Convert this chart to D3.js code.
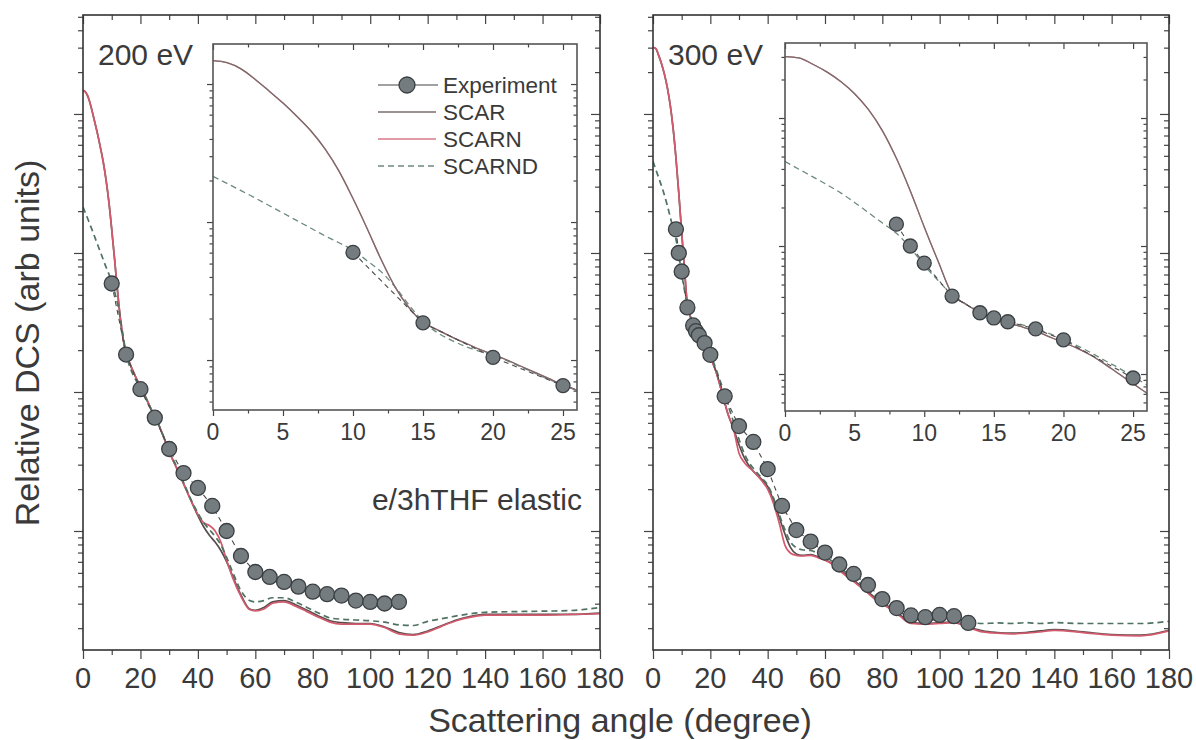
<!DOCTYPE html>
<html><head><meta charset="utf-8">
<script src="https://cdn.jsdelivr.net/npm/d3@7"></script>
<style>
html,body{margin:0;padding:0;background:#fff;}
svg{display:block;}
text{font-family:"Liberation Sans",Arial,Helvetica,sans-serif;fill:#3a3a3a;}
</style></head><body>
<svg id="chart" width="1196" height="740"></svg>
<script>
// ---------------- DATA ----------------
const angles = [0,1,2,3,4,5,6,7,8,9,10,11,12,13,14,15,16,17,18,19,20,21,22,23,24,25,26,
  28,30,32,35,38,40,42,44,46,48,50,52,55,58,60,63,66,70,74,78,82,86,90,95,100,105,110,115,120,125,130,135,140,150,160,170,180];

const e200SCAR = [1479,1429,1288,1084,891,728,582,457,339,234,148,90.2,53.7,33.9,24.0,18.8,16.6,14.8,13.3,12.0,10.96,10.0,9.02,8.13,7.33,6.61,6.03,
  4.79,3.72,3.02,2.19,1.585,1.288,1.072,0.933,0.832,0.724,0.603,0.479,0.347,0.275,0.269,0.282,0.309,0.316,0.295,0.269,0.245,0.226,0.219,0.216,0.216,0.204,0.186,0.180,0.191,0.209,0.229,0.243,0.251,0.251,0.251,0.251,0.257];
const e200SCARN = [1479,1429,1288,1084,891,728,582,457,339,234,148,90.2,53.7,33.9,24.0,18.8,16.6,14.8,13.3,12.0,10.96,10.0,9.02,8.13,7.33,6.61,6.03,
  4.79,3.72,3.02,2.19,1.585,1.318,1.148,1.096,1.000,0.832,0.617,0.468,0.339,0.272,0.266,0.275,0.302,0.309,0.288,0.263,0.240,0.221,0.214,0.214,0.214,0.202,0.182,0.178,0.188,0.207,0.226,0.240,0.248,0.248,0.248,0.251,0.254];
const e200SCARND = [214,190.5,169.0,149.6,131.8,116.1,102.3,90.2,79.4,70.8,62.4,52.5,43.7,33.9,25.1,19.05,15.85,13.96,12.59,11.61,10.84,9.89,8.91,8.04,7.24,6.61,6.03,
  4.79,3.76,3.09,2.24,1.622,1.349,1.148,1.023,0.912,0.794,0.646,0.513,0.372,0.316,0.309,0.316,0.331,0.331,0.309,0.282,0.257,0.237,0.232,0.229,0.226,0.221,0.211,0.209,0.224,0.234,0.245,0.254,0.260,0.263,0.265,0.268,0.282];

const e300SCAR = [3020,2951,2630,2291,1928,1549,1161,794,484,269,141,75.9,42.2,35.1,30.2,27.2,25.1,23.4,21.6,19.5,17.6,15.85,13.96,11.89,10.0,8.41,7.08,
  5.50,4.17,3.31,2.69,2.34,2.09,1.66,1.259,0.955,0.759,0.684,0.668,0.676,0.646,0.624,0.575,0.513,0.442,0.380,0.324,0.288,0.251,0.219,0.216,0.219,0.221,0.204,0.191,0.186,0.184,0.186,0.191,0.195,0.188,0.180,0.178,0.193];
const e300SCARN = [3020,2951,2630,2291,1928,1549,1161,794,484,269,141,75.9,42.2,35.1,30.2,27.2,25.1,23.4,21.6,19.5,17.6,15.85,13.96,11.89,10.0,8.41,7.08,
  5.50,3.63,3.09,2.69,2.29,2.00,1.585,1.148,0.794,0.692,0.668,0.661,0.668,0.638,0.617,0.569,0.501,0.432,0.372,0.316,0.282,0.245,0.216,0.214,0.216,0.219,0.202,0.188,0.184,0.182,0.184,0.188,0.193,0.186,0.178,0.176,0.191];
const e300SCARND = [457,398,347,302,260,219,182,151,126,96.6,70.8,53.7,41.7,35.1,30.9,28.2,26.0,24.3,22.6,20.7,18.6,16.6,14.6,12.7,11.1,9.55,8.22,
  6.17,4.57,3.55,2.82,2.40,2.14,1.738,1.318,1.023,0.832,0.759,0.733,0.724,0.684,0.653,0.596,0.531,0.457,0.394,0.339,0.299,0.263,0.237,0.229,0.229,0.229,0.221,0.216,0.218,0.216,0.219,0.216,0.219,0.216,0.216,0.216,0.224];

const expAngles200 = [10,15,20,25,30,35,40,45,50,55,60,65,70,75,80,85,90,95,100,105,110];
const exp200 = [60.3,18.6,10.47,6.53,3.89,2.61,2.04,1.514,1.000,0.661,0.507,0.467,0.430,0.398,0.366,0.351,0.343,0.316,0.309,0.301,0.309];
const expAngles300 = [8,9,10,12,14,15,16,18,20,25,30,35,40,45,50,55,60,65,70,75,80,85,90,95,100,105,110];
const exp300 = [148,100,73.6,40.6,30.1,27.4,25.6,22.5,18.5,9.31,5.69,4.37,2.79,1.514,1.016,0.839,0.700,0.574,0.491,0.409,0.324,0.279,0.247,0.240,0.249,0.244,0.218];

const mainTicksX = [0,20,40,60,80,100,120,140,160,180];
const mainMinorX = [10,30,50,70,90,110,130,150,170];
const insetTicksX = [0,5,10,15,20,25];
const insetMinorX = [2.5,7.5,12.5,17.5,22.5];
const panelLabels = ["200 eV","300 eV"];
const legendLabels = ["Experiment","SCAR","SCARN","SCARND"];
const noteText = "e/3hTHF elastic";
const xTitle = "Scattering angle (degree)";
const yTitle = "Relative DCS (arb units)";

// ---------------- LAYOUT / STYLE ----------------
const svg = d3.select("#chart");
svg.append("rect").attr("width",1196).attr("height",740).attr("fill","#fff");
const styles = {
  SCAR:  {stroke:"#574d4d", inset:"#7a6c6c", dash:null},
  SCARN: {stroke:"#d25a6c", inset:"#d77a88", dash:null},
  SCARND:{stroke:"#4f7262", inset:"#6d8a7e", dash:"6,4"}
};
const mainYDomain = [0.1393, 5152];
const panels = [
  {label: panelLabels[0], series:{SCAR:e200SCAR, SCARN:e200SCARN, SCARND:e200SCARND}, ex:expAngles200, ey:exp200,
   main:{x0:83,x1:600,y0:15,y1:650}, inset:{x0:213,x1:577,y0:44,y1:410,yDom:[4.345,1950]}, legend:true, note:true},
  {label: panelLabels[1], series:{SCAR:e300SCAR, SCARN:e300SCARN, SCARND:e300SCARND}, ex:expAngles300, ey:exp300,
   main:{x0:653,x1:1169,y0:15,y1:650}, inset:{x0:785,x1:1147,y0:43,y1:411,yDom:[5.14,3855]}, legend:false, note:false}
];

let clipId = 0;
function addClip(r){
  const id = "clip" + (clipId++);
  svg.append("clipPath").attr("id", id).append("rect")
    .attr("x", r.x0).attr("y", r.y0).attr("width", r.x1 - r.x0).attr("height", r.y1 - r.y0);
  return id;
}

function drawFrame(g, xs, ys, r, xMaj, xMin, tl, frameColor){
  const yt = ys.ticks();
  const isMajor = v => Math.abs(Math.log10(v) - Math.round(Math.log10(v))) < 1e-9;
  const yMaj = yt.filter(isMajor), yMin = yt.filter(v => !isMajor(v));
  const axes = [
    [d3.axisBottom(xs).tickValues(xMaj).tickSize(tl.maj), `translate(0,${r.y1})`],
    [d3.axisBottom(xs).tickValues(xMin).tickSize(tl.min), `translate(0,${r.y1})`],
    [d3.axisTop(xs).tickValues(xMaj).tickSize(-tl.maj), `translate(0,${r.y0})`],
    [d3.axisTop(xs).tickValues(xMin).tickSize(-tl.min), `translate(0,${r.y0})`],
    [d3.axisLeft(ys).tickValues(yMaj).tickSize(tl.maj), `translate(${r.x0},0)`],
    [d3.axisLeft(ys).tickValues(yMin).tickSize(tl.min), `translate(${r.x0},0)`],
    [d3.axisRight(ys).tickValues(yMaj).tickSize(-tl.maj), `translate(${r.x1},0)`],
    [d3.axisRight(ys).tickValues(yMin).tickSize(-tl.min), `translate(${r.x1},0)`]
  ];
  axes.forEach(([ax, tr]) => {
    const a = g.append("g").attr("transform", tr).call(ax.tickFormat(""));
    a.select(".domain").remove();
    a.selectAll("text").remove();
    a.selectAll("line").attr("stroke", "#444").attr("stroke-width", 1.2);
  });
  g.append("rect").attr("x", r.x0).attr("y", r.y0)
    .attr("width", r.x1 - r.x0).attr("height", r.y1 - r.y0)
    .attr("fill", "none").attr("stroke", frameColor).attr("stroke-width", 1.6);
}

function drawCurves(g, xs, ys, series, order, width, clip, maxAngle, isInset){
  order.forEach(name => {
    const vals = series[name];
    const pts = angles.map((a, i) => [a, vals[i]]).filter(d => d[0] <= maxAngle);
    g.append("path").datum(pts)
      .attr("clip-path", `url(#${clip})`)
      .attr("fill", "none")
      .attr("stroke", isInset ? styles[name].inset : styles[name].stroke)
      .attr("stroke-width", width)
      .attr("stroke-dasharray", styles[name].dash)
      .attr("d", d3.line().x(d => xs(d[0])).y(d => ys(d[1])).curve(d3.curveMonotoneX));
  });
}

function drawExp(g, xs, ys, ex, ey, rad, clip, maxAngle){
  const pts = ex.map((a, i) => [a, ey[i]]).filter(d => d[0] <= maxAngle);
  g.append("path").datum(pts)
    .attr("clip-path", `url(#${clip})`)
    .attr("fill", "none").attr("stroke", "#4a4a4a").attr("stroke-width", 1.1)
    .attr("stroke-dasharray", "5,4")
    .attr("d", d3.line().x(d => xs(d[0])).y(d => ys(d[1])));
  g.selectAll(null).data(pts).enter().append("circle")
    .attr("cx", d => xs(d[0])).attr("cy", d => ys(d[1])).attr("r", rad)
    .attr("fill", "#747c80").attr("stroke", "#3a3f42").attr("stroke-width", 1.3);
}

panels.forEach(p => {
  const m = p.main, ins = p.inset;
  const g = svg.append("g");
  const xs = d3.scaleLinear().domain([0,180]).range([m.x0, m.x1]);
  const ys = d3.scaleLog().domain(mainYDomain).range([m.y1, m.y0]);
  const clipM = addClip(m);
  drawCurves(g, xs, ys, p.series, ["SCAR","SCARN","SCARND"], 1.7, clipM, 180, false);
  drawExp(g, xs, ys, p.ex, p.ey, 7.5, clipM, 180);
  drawFrame(g, xs, ys, m, mainTicksX, mainMinorX, {maj:9, min:5}, "#333");

  // main tick labels
  g.selectAll(null).data(mainTicksX).enter().append("text")
    .attr("x", d => xs(d)).attr("y", m.y1 + 38)
    .attr("text-anchor", "middle").attr("font-size", 29)
    .text(d => d);

  // panel label
  g.append("text").attr("x", m.x0 + 15).attr("y", 65)
    .attr("font-size", 30).text(p.label);

  if (p.note) {
    g.append("text").attr("x", m.x1 - 18).attr("y", 510)
      .attr("text-anchor", "end").attr("font-size", 30).text(noteText);
  }

  // inset
  const gi = svg.append("g");
  gi.append("rect").attr("x", ins.x0).attr("y", ins.y0)
    .attr("width", ins.x1 - ins.x0).attr("height", ins.y1 - ins.y0).attr("fill", "#fff");
  const xi = d3.scaleLinear().domain([0,26]).range([ins.x0, ins.x1]);
  const yi = d3.scaleLog().domain(ins.yDom).range([ins.y1, ins.y0]);
  const clipI = addClip(ins);
  drawCurves(gi, xi, yi, p.series, ["SCARN","SCARND","SCAR"], 1.3, clipI, 28, true);
  drawExp(gi, xi, yi, p.ex, p.ey, 7, clipI, 26);
  drawFrame(gi, xi, yi, ins, insetTicksX, insetMinorX, {maj:6, min:3.5}, "#555");
  gi.selectAll(null).data(insetTicksX).enter().append("text")
    .attr("x", d => xi(d)).attr("y", ins.y1 + 30)
    .attr("text-anchor", "middle").attr("font-size", 23)
    .text(d => d);

  if (p.legend) {
    const lg = gi.append("g");
    const rows = [85, 112, 139, 166];
    legendLabels.forEach((lab, i) => {
      const y = rows[i];
      if (i === 0) {
        lg.append("line").attr("x1", 378).attr("x2", 438).attr("y1", y).attr("y2", y)
          .attr("stroke", "#454545").attr("stroke-width", 1.2);
        lg.append("circle").attr("cx", 407).attr("cy", y).attr("r", 8)
          .attr("fill", "#747c80").attr("stroke", "#3a3f42").attr("stroke-width", 1.3);
      } else {
        const s = styles[lab];
        lg.append("line").attr("x1", 378).attr("x2", 436).attr("y1", y).attr("y2", y)
          .attr("stroke", s.inset).attr("stroke-width", 1.3).attr("stroke-dasharray", s.dash);
      }
      lg.append("text").attr("x", 443).attr("y", y + 8).attr("font-size", 22.5).text(lab);
    });
  }
});

// axis titles
svg.append("text").attr("x", 620).attr("y", 732).attr("text-anchor", "middle")
  .attr("font-size", 34).text(xTitle);
svg.append("text").attr("transform", "translate(39,343) rotate(-90)")
  .attr("text-anchor", "middle").attr("font-size", 34).text(yTitle);
</script></body></html>
